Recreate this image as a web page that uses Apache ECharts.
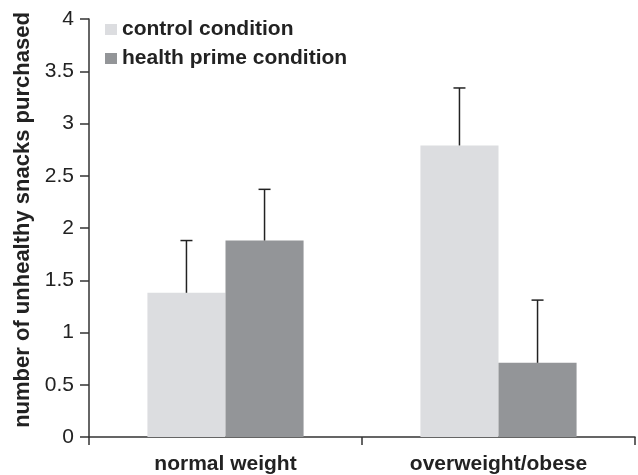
<!DOCTYPE html>
<html>
<head>
<meta charset="utf-8">
<script src="https://cdn.jsdelivr.net/npm/echarts@6/dist/echarts.min.js"></script>
<style>html,body{margin:0;padding:0;background:#fff}#c{width:638px;height:475px}</style>
</head>
<body>
<div id="c"></div>
<script>
var categories = ['normal weight', 'overweight/obese'];
var seriesNames = ['control condition', 'health prime condition'];
var controlValues = [1.38, 2.79];
var controlErrTop = [1.88, 3.34];
var primeValues = [1.88, 0.71];
var primeErrTop = [2.37, 1.31];
var yTicks = [0, 0.5, 1, 1.5, 2, 2.5, 3, 3.5, 4];

var colors = ['#dcdde0', '#939598'];
var barFrac = 0.286;
var font = 'Liberation Sans, Arial, Helvetica, sans-serif';

function errSeries(name, values, tops, side) {
  var data = values.map(function (v, i) { return [i, v, tops[i]]; });
  return {
    type: 'custom',
    name: name + ' err',
    z: 5,
    renderItem: function (params, api) {
      var band = api.size([1, 0])[0];
      var off = side * band * barFrac / 2;
      var base = api.coord([api.value(0), api.value(1)]);
      var top = api.coord([api.value(0), api.value(2)]);
      var x = base[0] + off;
      var style = { stroke: '#222', lineWidth: 1.5 };
      return {
        type: 'group',
        children: [
          { type: 'line', shape: { x1: x, y1: base[1], x2: x, y2: top[1] }, style: style },
          { type: 'line', shape: { x1: x - 6, y1: top[1], x2: x + 6, y2: top[1] }, style: style }
        ]
      };
    },
    data: data
  };
}

var chart = echarts.init(document.getElementById('c'));
chart.setOption({
  animation: false,
  color: colors,
  textStyle: { fontFamily: font },
  grid: { left: 89, right: 3, top: 19, bottom: 36 },
  legend: {
    data: seriesNames,
    orient: 'vertical',
    left: 100,
    top: 14,
    itemWidth: 12,
    itemHeight: 11,
    itemGap: 8,
    icon: 'rect',
    textStyle: { fontFamily: font, fontWeight: 'bold', fontSize: 21, color: '#222' }
  },
  xAxis: {
    type: 'category',
    data: categories,
    axisLine: { lineStyle: { color: '#333', width: 1.5 } },
    axisTick: { show: true, length: 8, lineStyle: { color: '#333', width: 1.5 } },
    axisLabel: { margin: 17, fontFamily: font, fontWeight: 'bold', fontSize: 21, color: '#222' }
  },
  yAxis: {
    type: 'value',
    min: yTicks[0],
    max: yTicks[yTicks.length - 1],
    interval: yTicks[1] - yTicks[0],
    name: 'number of unhealthy snacks purchased',
    nameLocation: 'middle',
    nameGap: 48,
    nameTextStyle: { fontFamily: font, fontWeight: 'bold', fontSize: 22, color: '#222', padding: [0, 0, 0, 16] },
    splitLine: { show: false },
    axisLine: { show: true, lineStyle: { color: '#333', width: 1.5 } },
    axisTick: { show: true, length: 9, lineStyle: { color: '#333', width: 1.5 } },
    axisLabel: { margin: 15, fontFamily: font, fontSize: 21, color: '#222' }
  },
  series: [
    { type: 'bar', name: seriesNames[0], data: controlValues, barWidth: (barFrac * 100) + '%', barGap: '0%', itemStyle: { color: colors[0] } },
    { type: 'bar', name: seriesNames[1], data: primeValues, barWidth: (barFrac * 100) + '%', barGap: '0%', itemStyle: { color: colors[1] } },
    errSeries(seriesNames[0], controlValues, controlErrTop, -1),
    errSeries(seriesNames[1], primeValues, primeErrTop, 1)
  ]
});
</script>
</body>
</html>
